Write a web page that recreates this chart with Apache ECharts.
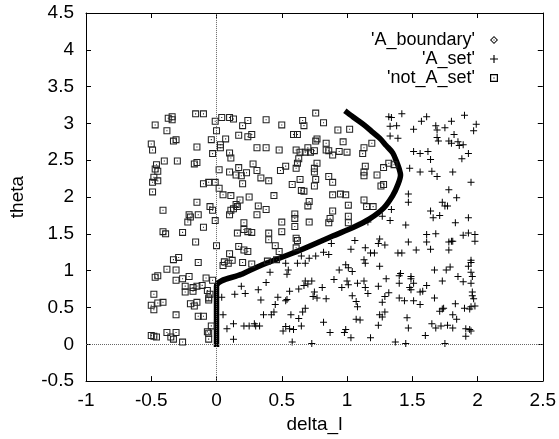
<!DOCTYPE html>
<html>
<head>
<meta charset="utf-8">
<script src="https://cdn.jsdelivr.net/npm/echarts@6/dist/echarts.min.js"></script>
<style>
html,body{margin:0;padding:0;background:#fff;}
#c{width:559px;height:439px;}
</style>
</head>
<body>
<div id="c"></div>
<script>
// axis ranges / ticks
const xRange = [-1, 2.5];
const yRange = [-0.5, 4.5];
const tickStep = 0.5;
const seriesNames = ["'A_boundary'", "'A_set'", "'not_A_set'"];

// boundary curve
const boundary = [
[0,0],[0,0.79],[0.19,0.95],[0.38,1.10],[0.63,1.27],[0.89,1.47],[1.05,1.59],[1.17,1.70],[1.28,1.85],[1.35,2.02],
[1.39,2.17],[1.41,2.30],[1.40,2.38],[1.38,2.48],[1.35,2.60],[1.30,2.70],[1.25,2.80],[1.19,2.89],[1.13,2.98],[1.06,3.07],[1.00,3.15]
];

// 'A_set' points
const aSet = [
[1.32,3.09],[1.34,3.08],[1.33,2.96],[1.38,2.97],[1.33,2.83],[1.39,2.80],[1.42,3.13],[1.51,2.92],[1.57,3.03],[1.61,3.09],
[1.68,2.97],[1.69,2.91],[1.75,2.94],[1.80,3.03],[1.90,3.11],[1.99,2.99],[1.97,2.90],[1.69,2.81],[1.70,2.76],[1.78,2.76],
[1.80,2.73],[1.82,2.85],[1.85,2.75],[1.86,2.70],[1.89,2.71],[1.51,2.62],[1.56,2.59],[1.62,2.62],[1.64,2.51],[1.93,2.59],
[1.88,2.52],[1.48,2.39],[1.56,2.34],[1.65,2.35],[1.69,2.28],[1.81,2.34],[1.95,2.20],[1.78,2.10],[1.84,1.99],[1.47,2.04],
[1.47,1.93],[1.73,1.93],[1.75,1.88],[1.77,1.88],[1.64,1.81],[1.66,1.72],[1.71,1.75],[1.83,1.65],[1.93,1.72],[1.34,1.83],
[1.27,1.74],[1.33,1.68],[1.45,1.62],[1.16,1.66],
[1.61,1.49],[1.68,1.50],[1.89,1.48],[1.93,1.51],[1.98,1.49],[1.47,1.39],[1.61,1.39],[1.78,1.39],[1.80,1.40],[1.81,1.40],
[1.98,1.40],[1.39,1.24],[1.42,1.24],[1.53,1.28],[1.64,1.29],[1.78,1.28],[1.95,1.14],[1.95,1.11],[1.93,1.06],[1.67,1.01],
[1.76,1.01],[1.79,1.05],[1.95,0.98],[1.96,0.92],[1.41,0.96],[1.40,0.93],[1.49,0.92],[1.49,0.89],[1.85,0.92],[1.73,0.86],
[1.89,0.85],[1.95,0.83],[1.40,0.83],[1.51,0.83],[1.48,0.77],[1.49,0.74],[1.61,0.80],[1.56,0.71],[1.58,0.72],[1.96,0.71],
[1.96,0.66],[1.97,0.62],[1.40,0.63],[1.44,0.59],[1.51,0.59],[1.56,0.54],[1.67,0.63],[1.83,0.55],[1.73,0.48],[1.74,0.49],
[1.71,0.45],[1.90,0.49],[1.94,0.48],[1.95,0.51],[1.98,0.52],[1.46,0.36],[1.81,0.40],[1.84,0.34],[1.47,0.22],[1.65,0.28],
[1.68,0.22],[1.72,0.25],[1.77,0.26],[1.81,0.22],[1.91,0.21],[1.94,0.20],[1.95,0.18],[1.91,0.11],[1.60,0.12],[1.37,0.03],
[1.45,0.01],[1.75,0.01],
[0.88,1.37],[1.06,1.41],[1.03,1.29],[1.14,1.31],[1.18,1.24],[1.21,1.24],[1.25,1.43],[1.24,1.37],[1.29,1.35],[0.65,1.20],
[0.71,1.17],[0.76,1.20],[0.82,1.25],[0.86,1.22],[0.62,1.10],[0.68,1.10],[0.53,1.10],[0.55,1.01],[0.41,0.98],[0.54,0.95],
[1.13,1.15],[1.14,1.10],[0.99,1.08],[1.01,1.04],[1.04,0.99],[0.94,1.01],[1.25,1.06],[0.90,0.88],[1.00,0.86],[1.01,0.81],
[1.08,0.83],[1.13,0.86],[1.14,0.77],[0.96,0.77],[1.24,0.79],[1.30,0.89],[0.68,0.86],[0.70,0.82],[0.67,0.80],[0.63,0.75],
[0.73,0.86],[0.81,0.77],[0.75,0.71],[0.74,0.65],[0.77,0.63],[0.84,0.62],[1.04,0.66],[1.16,0.69],[1.07,0.58],[1.08,0.51],
[1.29,0.65],[1.27,0.57],[1.32,0.70],[0.56,0.72],[0.47,0.64],[0.53,0.59],[0.54,0.61],[0.45,0.54],[0.44,0.44],[0.42,0.40],
[0.68,0.49],[0.66,0.44],[0.57,0.40],[0.63,0.35],[0.65,0.25],[0.53,0.24],[0.56,0.21],[0.59,0.20],[0.51,0.18],[0.82,0.30],
[0.87,0.16],[0.99,0.20],[0.98,0.16],[1.03,0.09],[1.07,0.34],[1.10,0.33],[1.18,0.09],[1.25,0.40],[1.27,0.37],[1.29,0.44],
[1.24,0.26],[0.58,0.03],[0.73,0.01],
[0.04,0.64],[0.14,0.68],[0.19,0.79],[0.22,0.69],[0.32,0.74],[0.38,0.84],[0.34,0.60],[0.36,0.40],[0.05,0.40],[0.08,0.21],
[0.13,0.28],[0.21,0.25],[0.25,0.25],[0.29,0.28],[0.30,0.25],[0.33,0.25],[0.13,0.07]
];

// 'not_A_set' points
const notASet = [
[-0.37,3.07],[-0.34,3.09],[-0.34,3.05],[-0.16,3.13],[-0.10,3.13],[-0.01,3.03],[0.04,3.08],[0.10,3.08],[0.13,3.06],[-0.47,2.98],
[-0.38,2.90],[0.20,2.97],[0.24,3.04],[0.38,3.05],[0.00,2.90],[-0.50,2.72],[-0.49,2.64],[-0.33,2.76],[-0.31,2.78],[-0.15,2.68],
[-0.04,2.78],[0.03,2.71],[0.03,2.67],[0.07,2.79],[0.17,2.84],[0.24,2.82],[0.27,2.85],[0.31,2.67],[0.38,2.67],[-0.03,2.59],
[0.10,2.60],[0.11,2.53],[-0.40,2.49],[-0.30,2.49],[-0.46,2.44],[-0.47,2.38],[-0.45,2.35],[-0.17,2.45],[-0.15,2.47],[-0.48,2.27],
[-0.49,2.20],[-0.45,2.22],[0.02,2.37],[0.28,2.45],[0.31,2.36],[0.10,2.34],[0.17,2.40],[0.15,2.30],[0.19,2.29],[0.23,2.33],
[0.34,2.26],[0.40,2.22],[-0.49,2.07],[-0.10,2.18],[-0.06,2.20],[-0.01,2.20],[0.02,2.12],[0.05,2.03],[0.11,2.02],[0.20,2.18],
[0.25,2.00],[-0.15,1.93],[0.18,1.96],[0.15,1.90],[0.16,1.87],[0.13,1.84],[0.11,1.82],[0.32,1.88],[0.38,1.83],[-0.05,1.87],
[-0.03,1.82],[-0.41,1.82],[-0.21,1.76],[-0.20,1.73],[-0.14,1.76],[0.10,1.76],[-0.01,1.68],[0.21,1.65],[0.31,1.76],
[0.50,2.98],[0.76,3.14],[0.66,3.04],[0.67,2.97],[0.82,3.01],[0.93,2.91],[1.02,2.92],[0.59,2.85],[0.62,2.85],[0.77,2.79],
[0.76,2.76],[0.84,2.73],[0.97,2.75],[0.48,2.64],[0.61,2.64],[0.64,2.61],[0.70,2.67],[0.68,2.61],[0.72,2.61],[0.75,2.63],
[0.84,2.64],[0.86,2.63],[0.94,2.62],[1.00,2.61],[0.89,2.57],[1.13,2.67],[1.19,2.73],[1.12,2.59],[0.63,2.52],[0.62,2.46],
[0.77,2.46],[0.53,2.42],[0.49,2.36],[0.61,2.39],[0.75,2.39],[0.75,2.34],[1.14,2.42],[1.13,2.34],[1.13,2.29],[1.23,2.30],
[1.28,2.40],[1.32,2.46],[1.36,2.44],[0.64,2.24],[0.76,2.24],[0.86,2.28],[0.89,2.20],[0.58,2.17],[0.75,2.15],[1.26,2.15],
[1.28,2.17],[0.65,2.09],[0.67,2.08],[0.44,2.02],[0.89,2.03],[0.95,2.04],[0.99,2.03],[0.71,1.94],[0.70,1.88],[1.13,1.96],
[1.15,1.87],[1.20,1.87],[1.01,1.89],[0.60,1.77],[0.60,1.71],[0.50,1.66],[0.71,1.66],[0.87,1.71],[0.86,1.65],[0.89,1.81],
[1.01,1.74],[1.01,1.65],[0.60,1.60],
[-0.22,1.66],[-0.10,1.59],[-0.41,1.53],[-0.39,1.50],[-0.26,1.52],[-0.16,1.39],[0.21,1.56],[0.24,1.53],[0.27,1.52],[0.16,1.51],
[0.00,1.34],[0.17,1.33],[0.21,1.28],[0.24,1.26],[0.10,1.23],[-0.33,1.15],[-0.29,1.18],[-0.14,1.11],[0.06,1.12],[0.09,1.10],
[0.05,1.07],[0.12,1.14],[0.20,1.11],[0.27,1.09],[-0.38,1.02],[-0.31,1.01],[-0.21,0.92],[-0.45,0.93],[-0.47,0.91],[-0.31,0.87],
[-0.26,0.89],[-0.08,0.90],[-0.03,0.87],[-0.24,0.79],[-0.18,0.77],[-0.15,0.79],[-0.11,0.80],[-0.18,0.72],[-0.24,0.71],[-0.07,0.73],
[-0.05,0.68],[-0.06,0.63],[-0.06,0.60],[-0.48,0.68],[-0.45,0.56],[-0.41,0.57],[-0.50,0.53],[-0.48,0.47],[-0.20,0.55],[-0.15,0.57],
[-0.17,0.52],[-0.31,0.40],[-0.14,0.38],[-0.10,0.38],
[-0.50,0.12],[-0.48,0.11],[-0.46,0.10],[-0.38,0.16],[-0.35,0.10],[-0.31,0.16],[-0.33,0.07],[-0.26,0.03],[-0.07,0.17],[-0.06,0.15],
[-0.06,0.07],[-0.04,0.25],
[0.50,1.53],[0.40,1.51],[0.40,1.42],[0.61,1.44],[0.62,1.41],[0.45,1.34],[0.48,1.26],[0.61,1.31],[0.39,1.13],[0.46,1.15]
];

const diamondPath = 'path://M5,0L10,5L5,10L0,5Z M5,1.6L1.6,5L5,8.4L8.4,5Z M4.4,4.4L5.6,4.4L5.6,5.6L4.4,5.6Z';
const plusPath = 'path://M3,0h1v3h3v1h-3v3h-1v-3h-3v-1h3z';
const squarePath = 'path://M0,0h8v1.2h-8z M0,6.8h8v1.2h-8z M0,1.2h1.2v5.6h-1.2z M6.8,1.2h1.2v5.6h-1.2z M3.4,3.4h1.2v1.2h-1.2z';

const FONT = 'Liberation Sans, Arial, Helvetica, sans-serif';
const chart = echarts.init(document.getElementById('c'), null, {renderer: 'canvas'});

function axisCommon(extra) {
  return Object.assign({
    type: 'value',
    interval: tickStep,
    axisLine: {show: true, onZero: false, lineStyle: {color: '#000', width: 1}},
    axisTick: {show: true, inside: true, length: 5, lineStyle: {color: '#000', width: 1}},
    splitLine: {show: false},
    axisLabel: {show: false}
  }, extra);
}

chart.setOption({
  animation: false,
  backgroundColor: '#fff',
  textStyle: {fontFamily: FONT},
  grid: {left: 83, top: 13, right: 14, bottom: 57, containLabel: false},
  legend: {
    orient: 'vertical',
    align: 'right',
    right: 61,
    top: 31,
    padding: 0,
    itemGap: 1,
    itemWidth: 8,
    itemHeight: 8,
    selectedMode: false,
    itemStyle: {color: '#000', borderWidth: 0},
    textStyle: {fontSize: 18, color: '#000', fontFamily: FONT, padding: [0, 10, 0, 0]},
    data: [
      {name: seriesNames[0], icon: diamondPath},
      {name: seriesNames[1], icon: plusPath},
      {name: seriesNames[2], icon: squarePath}
    ]
  },
  xAxis: [
    axisCommon({
      min: xRange[0], max: xRange[1], position: 'bottom',
      name: 'delta_l', nameLocation: 'middle', nameGap: 29,
      nameTextStyle: {fontSize: 19, color: '#000', fontFamily: FONT},
      axisLabel: {show: true, fontSize: 19, color: '#000', margin: 10, fontFamily: FONT}
    }),
    axisCommon({min: xRange[0], max: xRange[1], position: 'top'})
  ],
  yAxis: [
    axisCommon({
      min: yRange[0], max: yRange[1], position: 'left',
      name: 'theta', nameLocation: 'middle', nameGap: 59,
      nameTextStyle: {fontSize: 19, color: '#000', fontFamily: FONT},
      axisLabel: {show: true, fontSize: 19, color: '#000', margin: 12, fontFamily: FONT}
    }),
    axisCommon({min: yRange[0], max: yRange[1], position: 'right'})
  ],
  series: [
    {
      name: seriesNames[0],
      type: 'line',
      data: boundary,
      showSymbol: false,
      smooth: 0.3,
      z: 3,
      itemStyle: {color: '#000'},
      lineStyle: {color: '#000', width: 5.5, cap: 'square', join: 'round'}
    },
    {
      name: seriesNames[1],
      type: 'scatter',
      data: aSet,
      symbol: plusPath,
      symbolSize: 7,
      z: 2,
      itemStyle: {color: '#000', opacity: 1},
      markLine: {
        silent: true,
        symbol: ['none', 'none'],
        label: {show: false},
        lineStyle: {type: 'dotted', color: '#666', width: 1},
        data: [{xAxis: 0}, {yAxis: 0}]
      }
    },
    {
      name: seriesNames[2],
      type: 'scatter',
      data: notASet,
      symbol: squarePath,
      symbolSize: 7,
      z: 4,
      itemStyle: {color: '#222', opacity: 1}
    }
  ]
});
</script>
</body>
</html>
